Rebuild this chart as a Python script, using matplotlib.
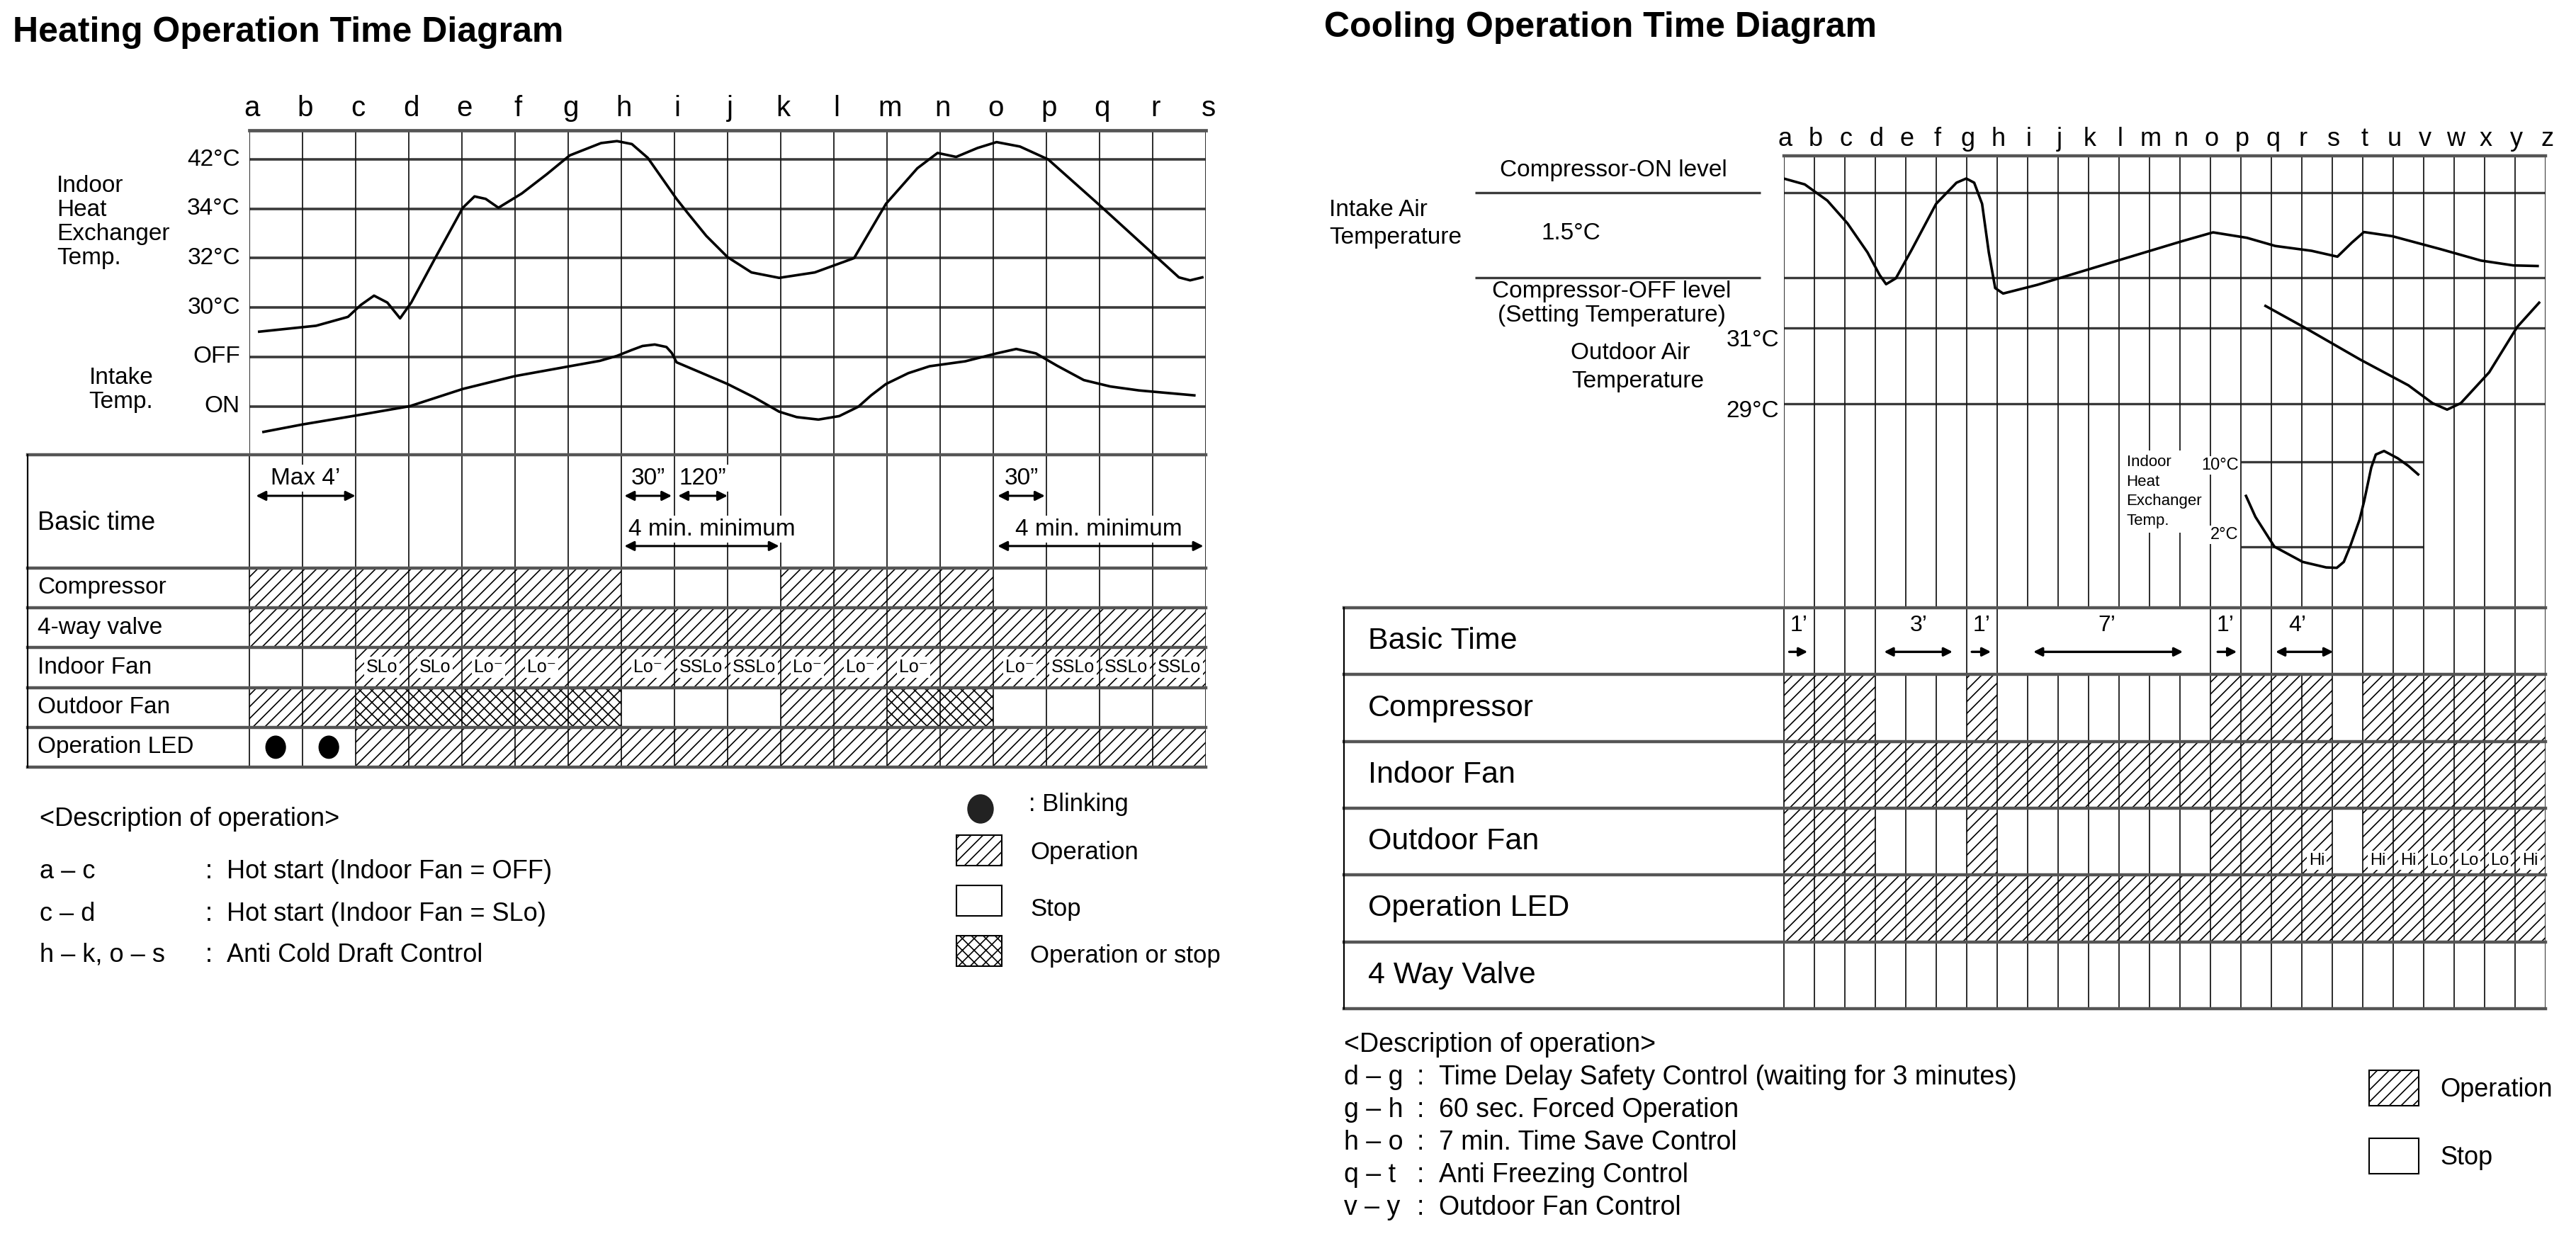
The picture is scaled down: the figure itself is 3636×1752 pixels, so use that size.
import matplotlib.pyplot as plt
from matplotlib.patches import Rectangle, Ellipse

plt.rcParams['font.family'] = ['Liberation Sans', 'DejaVu Sans']
plt.rcParams['hatch.linewidth'] = 1.2

# ---------------- heating diagram data ----------------
heat_letters = list('abcdefghijklmnopqrs')
heat_levels = [0, 1, 2, 3, 4, 5]
heat_level_labels = ['ON', 'OFF', '30°C', '32°C', '34°C', '42°C']

# x in columns (a = 0 ... s = 18), y in grid levels (ON = 0 ... 42°C = 5)
hex_x = [0.19, 1.26, 1.86, 2.1, 2.35, 2.6, 2.84, 3.05, 3.5, 4.02, 4.24, 4.45, 4.69, 5.13,
         5.6, 6.03, 6.62, 6.92, 7.2, 7.5, 8.04, 8.26, 8.6, 9.0, 9.45, 9.97, 10.64, 11.38,
         11.98, 12.57, 12.95, 13.3, 13.7, 14.06, 14.5, 15.03, 16.0, 17.04, 17.49, 17.7, 17.93]
hex_y = [1.51, 1.63, 1.81, 2.05, 2.24, 2.1, 1.78, 2.1, 3.0, 4.02, 4.25, 4.2, 4.02, 4.31,
         4.7, 5.08, 5.33, 5.37, 5.31, 5.03, 4.2, 3.9, 3.45, 3.02, 2.71, 2.6, 2.71, 3.0,
         4.1, 4.82, 5.13, 5.05, 5.23, 5.35, 5.26, 5.0, 4.07, 3.05, 2.61, 2.55, 2.61]
intake_x = [0.27, 1.0, 2.0, 3.02, 4.02, 5.0, 6.03, 6.6, 6.92, 7.2, 7.4, 7.63, 7.85, 7.95,
            8.04, 8.5, 9.0, 9.5, 9.97, 10.3, 10.71, 11.1, 11.46, 11.7, 11.98, 12.4, 12.8,
            13.47, 14.06, 14.43, 14.8, 15.2, 15.7, 16.2, 16.74, 17.78]
intake_y = [-0.52, -0.37, -0.19, 0.0, 0.35, 0.61, 0.81, 0.92, 1.02, 1.14, 1.22, 1.25, 1.2,
            1.08, 0.89, 0.68, 0.45, 0.18, -0.11, -0.22, -0.27, -0.2, -0.01, 0.22, 0.45,
            0.67, 0.81, 0.91, 1.07, 1.16, 1.07, 0.82, 0.53, 0.4, 0.32, 0.22]

heat_rows = ['Basic time', 'Compressor', '4-way valve', 'Indoor Fan', 'Outdoor Fan', 'Operation LED']
# state per column interval: 0 stop, 1 operation, 2 operation or stop, 3 blinking
heat_compressor = [1, 1, 1, 1, 1, 1, 1, 0, 0, 0, 1, 1, 1, 1, 0, 0, 0, 0]
heat_valve = [1, 1, 1, 1, 1, 1, 1, 1, 1, 1, 1, 1, 1, 1, 1, 1, 1, 1]
heat_indoor_fan = [0, 0, 1, 1, 1, 1, 1, 1, 1, 1, 1, 1, 1, 1, 1, 1, 1, 1]
heat_outdoor_fan = [1, 1, 2, 2, 2, 2, 2, 0, 0, 0, 1, 1, 2, 2, 0, 0, 0, 0]
heat_led = [3, 3, 1, 1, 1, 1, 1, 1, 1, 1, 1, 1, 1, 1, 1, 1, 1, 1]
heat_fan_speed = ['', '', 'SLo', 'SLo', 'Lo⁻', 'Lo⁻', '', 'Lo⁻', 'SSLo', 'SSLo',
                  'Lo⁻', 'Lo⁻', 'Lo⁻', '', 'Lo⁻', 'SSLo', 'SSLo', 'SSLo']
heat_short_spans = [('Max 4’', 0.13, 2.0), ('30”', 7.06, 7.95), ('120”', 8.07, 9.0),
                    ('30”', 14.08, 14.97)]
heat_long_spans = [('4 min. minimum', 7.06, 9.97, 8.7), ('4 min. minimum', 14.08, 17.95, 15.98)]
heat_notes = [('a – c', 'Hot start (Indoor Fan = OFF)'),
              ('c – d', 'Hot start (Indoor Fan = SLo)'),
              ('h – k, o – s', 'Anti Cold Draft Control')]

# ---------------- cooling diagram data ----------------
cool_letters = list('abcdefghijklmnopqrstuvwxyz')
cool_levels = [1, 0, -0.592, -1.485]     # Compressor-ON, Compressor-OFF, 31°C, 29°C
cool_sub_levels = [-2.174, -3.17]        # 10°C, 2°C
cool_sub_span = (15, 21)

cin_x = [0, 0.69, 1.43, 2.09, 2.75, 3.15, 3.36, 3.68, 4.21, 5.0, 5.67, 5.99, 6.25, 6.51,
         6.73, 6.94, 7.2, 8.32, 10.96, 13.08, 14.09, 15.2, 16.13, 17.32, 18.17, 18.64,
         19.04, 19.97, 21.56, 22.88, 23.94, 24.74]
cin_y = [1.164, 1.095, 0.905, 0.637, 0.294, 0.027, -0.08, -0.011, 0.332, 0.866, 1.115,
         1.164, 1.115, 0.866, 0.294, -0.126, -0.19, -0.088, 0.198, 0.427, 0.53, 0.466,
         0.37, 0.313, 0.244, 0.408, 0.534, 0.485, 0.332, 0.198, 0.141, 0.134]
out_x = [15.81, 17.06, 18.91, 20.5, 21.29, 21.77, 22.22, 23.15, 24.07, 24.79]
out_y = [-0.336, -0.584, -0.966, -1.271, -1.481, -1.557, -1.481, -1.118, -0.584, -0.298]
ihe_x = [15.17, 15.48, 16.1, 17.03, 17.8, 18.15, 18.38, 18.6, 18.9, 19.05, 19.28, 19.43,
         19.7, 20.15, 20.5, 20.82]
ihe_y = [-2.573, -2.82, -3.17, -3.35, -3.415, -3.42, -3.35, -3.156, -2.85, -2.63, -2.24,
         -2.086, -2.044, -2.13, -2.22, -2.32]

cool_rows = ['Basic Time', 'Compressor', 'Indoor Fan', 'Outdoor Fan', 'Operation LED', '4 Way Valve']
cool_compressor = [1, 1, 1, 0, 0, 0, 1, 0, 0, 0, 0, 0, 0, 0, 1, 1, 1, 1, 0, 1, 1, 1, 1, 1, 1]
cool_indoor_fan = [1, 1, 1, 1, 1, 1, 1, 1, 1, 1, 1, 1, 1, 1, 1, 1, 1, 1, 1, 1, 1, 1, 1, 1, 1]
cool_outdoor_fan = [1, 1, 1, 0, 0, 0, 1, 0, 0, 0, 0, 0, 0, 0, 1, 1, 1, 1, 0, 1, 1, 1, 1, 1, 1]
cool_led = [1, 1, 1, 1, 1, 1, 1, 1, 1, 1, 1, 1, 1, 1, 1, 1, 1, 1, 1, 1, 1, 1, 1, 1, 1]
cool_valve = [0, 0, 0, 0, 0, 0, 0, 0, 0, 0, 0, 0, 0, 0, 0, 0, 0, 0, 0, 0, 0, 0, 0, 0, 0]
cool_fan_speed = ['', '', '', '', '', '', '', '', '', '', '', '', '', '', '', '', '',
                  'Hi', '', 'Hi', 'Hi', 'Lo', 'Lo', 'Lo', 'Hi']
cool_single = [('1’', 0.18, 0.78, 0.5), ('1’', 6.17, 6.8, 6.5), ('1’', 14.24, 14.87, 14.5)]
cool_double = [('3’', 3.29, 5.54, 4.42), ('7’', 8.19, 13.1, 10.6), ('4’', 16.14, 18.03, 16.85)]
cool_basic_gaps = [4, 5, 8, 9, 10, 11, 12, 13, 17]
cool_notes = [('d – g', 'Time Delay Safety Control (waiting for 3 minutes)'),
              ('g – h', '60 sec. Forced Operation'),
              ('h – o', '7 min. Time Save Control'),
              ('q – t', 'Anti Freezing Control'),
              ('v – y', 'Outdoor Fan Control')]

# ---------------- layout ----------------
W, H = 3636, 1752
GRID = '#3a3a3a'
RULE = '#555555'
HATCH = {1: '//', 2: 'xx'}
fig = plt.figure(figsize=(W / 100, H / 100), dpi=100)

bg = fig.add_axes([0, 0, 1, 1])
bg.set_xlim(0, W)
bg.set_ylim(H, 0)
bg.set_axis_off()


def px_axes(x0, y0, x1, y1):
    ax = fig.add_axes([x0 / W, 1 - y1 / H, (x1 - x0) / W, (y1 - y0) / H])
    ax.set_axis_off()
    return ax


def draw_states(ax, edges, rows, labels=None, label_y=None, fs=18):
    for r, states in enumerate(rows, start=1):
        top, h = edges[r], edges[r + 1] - edges[r]
        for i, s in enumerate(states):
            if s in HATCH:
                ax.bar(i + 0.5, h, bottom=top, width=1, fill=False, hatch=HATCH[s],
                       edgecolor='k', lw=0, zorder=1)
            elif s == 3:
                ax.add_patch(Ellipse((i + 0.5, top + h / 2), 0.37, 0.56, color='k', zorder=3))
    if labels:
        for i, t in enumerate(labels):
            if t:
                ax.text(i + 0.5, label_y, t, ha='center', va='center', fontsize=fs, zorder=4,
                        bbox=dict(boxstyle='square,pad=0.12', fc='white', ec='none'))


fig.text(18 / W, 1 - 46 / H, 'Heating Operation Time Diagram', fontsize=36,
         fontweight='bold', va='center')
fig.text(1869 / W, 1 - 39 / H, 'Cooling Operation Time Diagram', fontsize=36,
         fontweight='bold', va='center')

# ---------- heating: curves ----------
def lv_h(y):
    return (573.5 - y) / 69.7


ax_h = px_axes(351.6, 184, 1702.3, 641.5)
ax_h.set_xlim(0, 18)
ax_h.set_ylim(lv_h(641.5), lv_h(184))
for lvl, lab in zip(heat_levels, heat_level_labels):
    ax_h.axhline(lvl, color=GRID, lw=2.6, zorder=1)
    ax_h.text(-0.17, lvl, lab, ha='right', va='center', fontsize=24, clip_on=False)
ax_h.axhline(lv_h(184), color=RULE, lw=3.4, clip_on=False)
for c, letter in enumerate(heat_letters):
    ax_h.axvline(c, color='#1a1a1a', lw=1.3, zorder=1)
    ax_h.text(c + 0.05, lv_h(153), letter, ha='center', va='center', fontsize=29)
ax_h.plot(hex_x, hex_y, color='k', lw=2.6, zorder=3, solid_joinstyle='round')
ax_h.plot(intake_x, intake_y, color='k', lw=2.6, zorder=3, solid_joinstyle='round')
for t, y in zip(['Indoor', 'Heat', 'Exchanger', 'Temp.'], [4.46, 3.98, 3.49, 3.0]):
    ax_h.text(-3.62, y, t, ha='left', va='center', fontsize=24)
for t, y in zip(['Intake', 'Temp.'], [0.58, 0.08]):
    ax_h.text(-3.01, y, t, ha='left', va='center', fontsize=24)

# ---------- heating: table ----------
heat_edges = [0, 2.85, 3.85, 4.85, 5.85, 6.85, 7.85]
ax_ht = px_axes(39, 641.5, 1702.3, 1083)
ax_ht.set_xlim(-(351.6 - 39) / 75.04, 18)
ax_ht.set_ylim(heat_edges[-1], 0)
for e in heat_edges:
    ax_ht.axhline(e, color=RULE, lw=3.2, clip_on=False, zorder=2)
ax_ht.axvline(-(351.6 - 39) / 75.04, color='k', lw=1.6, clip_on=False)
for c in range(len(heat_letters)):
    ax_ht.axvline(c, color='#1a1a1a', lw=1.3, zorder=1)
draw_states(ax_ht, heat_edges,
            [heat_compressor, heat_valve, heat_indoor_fan, heat_outdoor_fan, heat_led],
            labels=heat_fan_speed, label_y=(heat_edges[3] + heat_edges[4]) / 2, fs=18)
for name, y0, y1 in zip(heat_rows, heat_edges[:-1], heat_edges[1:]):
    yy = 1.72 if name == 'Basic time' else (y0 + y1) / 2
    ax_ht.text(-3.98, yy, name, ha='left', va='center', fontsize=26 if name == 'Basic time' else 24)
for t, a, b in heat_short_spans:
    ax_ht.text((a + b) / 2, 0.6, t, ha='center', va='center', fontsize=24, zorder=4,
               bbox=dict(boxstyle='square,pad=0.1', fc='white', ec='none'))
    ax_ht.annotate('', xy=(b, 1.04), xytext=(a, 1.04), zorder=4,
                   arrowprops=dict(arrowstyle='<|-|>', color='k', lw=2.2, mutation_scale=20,
                                   shrinkA=0, shrinkB=0))
for t, a, b, tx in heat_long_spans:
    ax_ht.text(tx, 1.88, t, ha='center', va='center', fontsize=24, zorder=4,
               bbox=dict(boxstyle='square,pad=0.1', fc='white', ec='none'))
    ax_ht.annotate('', xy=(b, 2.3), xytext=(a, 2.3), zorder=4,
                   arrowprops=dict(arrowstyle='<|-|>', color='k', lw=2.2, mutation_scale=20,
                                   shrinkA=0, shrinkB=0))

# ---------- heating: notes and legend ----------
bg.text(56, 1156, '<Description of operation>', fontsize=26, va='center')
for (k, t), y in zip(heat_notes, [1231, 1290, 1348]):
    bg.text(56, y, k, fontsize=26, va='center')
    bg.text(290, y, ':', fontsize=26, va='center')
    bg.text(320, y, t, fontsize=26, va='center')
bg.add_patch(Ellipse((1384, 1142), 36, 40, color='#222222'))
bg.text(1452, 1135, ': Blinking', fontsize=25, va='center')
bg.add_patch(Rectangle((1350, 1179), 64, 43, fill=False, hatch='//', ec='k', lw=1.5))
bg.text(1454, 1204, 'Operation', fontsize=25, va='center')
bg.add_patch(Rectangle((1350, 1250), 64, 43, fill=False, ec='k', lw=1.5))
bg.text(1454, 1284, 'Stop', fontsize=25, va='center')
bg.add_patch(Rectangle((1350, 1321), 64, 43, fill=False, hatch='xx', ec='k', lw=1.5))
bg.text(1454, 1350, 'Operation or stop', fontsize=25, va='center')

# ---------- cooling: curves ----------
def lv_c(y):
    return (391.6 - y) / 119.9


ax_c = px_axes(2517.7, 220, 3593, 858)
ax_c.set_xlim(0, 25)
ax_c.set_ylim(lv_c(858), lv_c(220))
for lvl in cool_levels:
    ax_c.axhline(lvl, color=GRID, lw=2.4, zorder=1)
ax_c.axhline(lv_c(220), color=RULE, lw=3.2, clip_on=False)
ax_c.hlines(cool_sub_levels, *cool_sub_span, color=GRID, lw=2.4, zorder=1)
for c, letter in enumerate(cool_letters):
    ax_c.axvline(c, color='#1a1a1a', lw=1.3, zorder=1)
    ax_c.text(c + 0.05, lv_c(196), letter, ha='center', va='center', fontsize=26)
ax_c.plot(cin_x, cin_y, color='k', lw=2.6, zorder=3, solid_joinstyle='round')
ax_c.plot(out_x, out_y, color='k', lw=2.6, zorder=3, solid_joinstyle='round')
ax_c.plot(ihe_x, ihe_y, color='k', lw=2.6, zorder=3, solid_joinstyle='round')

ax_c.hlines([1, 0], -10.13, -0.77, color=GRID, lw=2.4, clip_on=False)
ax_c.annotate('', xy=(-5.45, 0), xytext=(-5.45, 1),
              arrowprops=dict(arrowstyle='<|-|>', color='k', lw=1.6, mutation_scale=20,
                              shrinkA=0, shrinkB=0))
ax_c.text(-5.58, lv_c(240.6), 'Compressor-ON level', ha='center', va='center', fontsize=24)
ax_c.text(-6.98, lv_c(329), '1.5°C', ha='center', va='center', fontsize=24)
ax_c.text(-5.65, lv_c(411.3), 'Compressor-OFF level', ha='center', va='center', fontsize=24)
ax_c.text(-5.65, lv_c(445.6), '(Setting Temperature)', ha='center', va='center', fontsize=24)
ax_c.text(-14.92, lv_c(296.9), 'Intake Air', ha='left', va='center', fontsize=24)
ax_c.text(-14.92, lv_c(335.8), 'Temperature', ha='left', va='center', fontsize=24)
ax_c.text(-5.04, lv_c(498.2), 'Outdoor Air', ha='center', va='center', fontsize=24)
ax_c.text(-4.78, lv_c(538.5), 'Temperature', ha='center', va='center', fontsize=24)
ax_c.text(-0.15, lv_c(480), '31°C', ha='right', va='center', fontsize=24)
ax_c.text(-0.15, lv_c(580.6), '29°C', ha='right', va='center', fontsize=24)
ax_c.text(11.25, lv_c(694), 'Indoor\nHeat\nExchanger\nTemp.', ha='left', va='center',
          fontsize=16, linespacing=1.4, zorder=4,
          bbox=dict(boxstyle='square,pad=0.3', fc='white', ec='none'))
ax_c.text(14.93, lv_c(657), '10°C', ha='right', va='center', fontsize=17, zorder=6,
          bbox=dict(boxstyle='square,pad=0.1', fc='white', ec='none'))
ax_c.text(14.93, lv_c(755), '2°C', ha='right', va='center', fontsize=17, zorder=6,
          bbox=dict(boxstyle='square,pad=0.1', fc='white', ec='none'))

# ---------- cooling: table ----------
cool_edges = [0, 1, 2, 3, 4, 5, 6]
ax_ct = px_axes(1897, 858, 3593, 1424)
ax_ct.set_xlim(-(2517.7 - 1897) / 43.0, 25)
ax_ct.set_ylim(6, 0)
for e in cool_edges:
    ax_ct.axhline(e, color=RULE, lw=3.2, clip_on=False, zorder=2)
ax_ct.axvline(-(2517.7 - 1897) / 43.0, color='k', lw=1.6, clip_on=False)
for c in range(len(cool_letters)):
    ax_ct.vlines(c, 1, 6, color='#1a1a1a', lw=1.3, zorder=1)
    if c not in cool_basic_gaps:
        ax_ct.vlines(c, 0, 1, color='#1a1a1a', lw=1.3, zorder=1)
draw_states(ax_ct, cool_edges,
            [cool_compressor, cool_indoor_fan, cool_outdoor_fan, cool_led, cool_valve],
            labels=cool_fan_speed, label_y=3.78, fs=17)
for name, y0, y1 in zip(cool_rows, cool_edges[:-1], cool_edges[1:]):
    ax_ct.text(-13.64, (y0 + y1) / 2, name, ha='left', va='center', fontsize=31)
for t, a, b, tx in cool_single:
    ax_ct.text(tx, 0.27, t, ha='center', va='center', fontsize=23)
    ax_ct.annotate('', xy=(b, 0.66), xytext=(a, 0.66),
                   arrowprops=dict(arrowstyle='-|>', color='k', lw=2.4, mutation_scale=18,
                                   shrinkA=0, shrinkB=0))
for t, a, b, tx in cool_double:
    ax_ct.text(tx, 0.27, t, ha='center', va='center', fontsize=23)
    ax_ct.annotate('', xy=(b, 0.66), xytext=(a, 0.66),
                   arrowprops=dict(arrowstyle='<|-|>', color='k', lw=2.4, mutation_scale=18,
                                   shrinkA=0, shrinkB=0))

# ---------- cooling: notes and legend ----------
bg.text(1897, 1475, '<Description of operation>', fontsize=27, va='center')
for (k, t), y in zip(cool_notes, [1521, 1567, 1613, 1659, 1705]):
    bg.text(1897, y, k, fontsize=27, va='center')
    bg.text(2000, y, ':', fontsize=27, va='center')
    bg.text(2031, y, t, fontsize=27, va='center')
bg.add_patch(Rectangle((3344, 1511), 70, 50, fill=False, hatch='//', ec='k', lw=1.5))
bg.text(3444, 1539, 'Operation', fontsize=26, va='center')
bg.add_patch(Rectangle((3344, 1607), 70, 50, fill=False, ec='k', lw=1.5))
bg.text(3444, 1635, 'Stop', fontsize=26, va='center')

fig.savefig('out.png', dpi=100, facecolor='white')
